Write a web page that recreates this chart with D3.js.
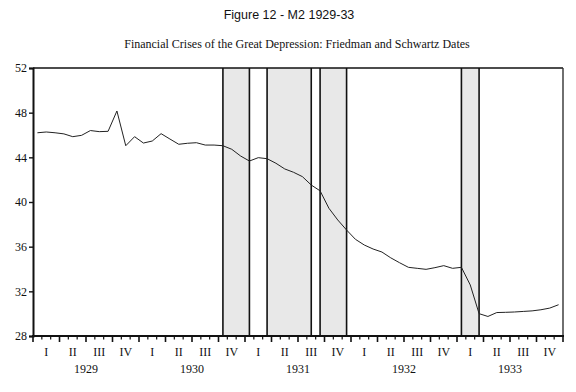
<!DOCTYPE html>
<html>
<head>
<meta charset="utf-8">
<script src="https://cdn.jsdelivr.net/npm/d3@7"></script>
<style>
  html, body { margin: 0; padding: 0; background: #fff; }
  svg { display: block; }
</style>
</head>
<body>
<div id="chart"></div>
<script>
// ── Data ─────────────────────────────────────────────────────────────────
var YEARS = ["1929", "1930", "1931", "1932", "1933"];
var QUARTERS = ["I", "II", "III", "IV"];

// M2, monthly, Jan 1929 – Dec 1933 (billions of dollars)
var M2_1929 = [46.2, 46.27, 46.2, 46.1, 45.85, 45.97, 46.4, 46.3, 46.33, 48.15, 45.04, 45.85];
var M2_1930 = [45.28, 45.46, 46.12, 45.64, 45.17, 45.26, 45.31, 45.1, 45.1, 45.04, 44.72, 44.12];
var M2_1931 = [43.67, 43.97, 43.88, 43.47, 42.96, 42.66, 42.27, 41.52, 41.0, 39.44, 38.39, 37.49];
var M2_1932 = [36.66, 36.15, 35.79, 35.52, 35.0, 34.56, 34.15, 34.06, 33.97, 34.12, 34.3, 34.06];
var M2_1933 = [34.15, 32.57, 30.0, 29.75, 30.1, 30.12, 30.15, 30.2, 30.25, 30.35, 30.5, 30.8];

// Friedman & Schwartz crisis windows, as month indexes from Jan 1929
var CRISIS_START = [21, 26, 32, 48];
var CRISIS_END   = [24, 31, 35, 50];

var Y_TICKS = [28, 32, 36, 40, 44, 48, 52];

var m2 = [].concat(M2_1929, M2_1930, M2_1931, M2_1932, M2_1933);

// ── Layout ───────────────────────────────────────────────────────────────
var W = 576, H = 392;
var L = 33, R = 563, T = 68, B = 336;

var svg = d3.select("#chart").append("svg")
  .attr("width", W)
  .attr("height", H);

var x = d3.scaleLinear().domain([0, YEARS.length * 12]).range([L, R]);
var y = d3.scaleLinear().domain([28, 52]).range([B, T]);

// ── Titles ───────────────────────────────────────────────────────────────
svg.append("text")
  .attr("x", 289).attr("y", 19)
  .attr("text-anchor", "middle")
  .attr("font-family", "'Liberation Sans', Arial, sans-serif")
  .attr("font-size", "12.5px")
  .attr("fill", "#111")
  .text("Figure 12 - M2 1929-33");

svg.append("text")
  .attr("x", 297).attr("y", 48)
  .attr("text-anchor", "middle")
  .attr("font-family", "'Liberation Serif', 'Times New Roman', serif")
  .attr("font-size", "12px")
  .attr("fill", "#111")
  .text("Financial Crises of the Great Depression: Friedman and Schwartz Dates");

// ── Crisis shading ───────────────────────────────────────────────────────
var bands = CRISIS_START.map(function (s, i) { return { s: s, e: CRISIS_END[i] }; });

svg.append("g").selectAll("rect")
  .data(bands)
  .join("rect")
  .attr("x", function (d) { return x(d.s + 0.5); })
  .attr("y", T)
  .attr("width", function (d) { return x(d.e + 0.5) - x(d.s + 0.5); })
  .attr("height", B - T)
  .attr("fill", "#e8e8e8");

var edges = [];
bands.forEach(function (d) { edges.push(d.s, d.e); });

svg.append("g").selectAll("line")
  .data(edges)
  .join("line")
  .attr("x1", function (d) { return x(d + 0.5); })
  .attr("x2", function (d) { return x(d + 0.5); })
  .attr("y1", T).attr("y2", B)
  .attr("stroke", "#111")
  .attr("stroke-width", 1.6);

// ── Series line ──────────────────────────────────────────────────────────
svg.append("path")
  .datum(m2)
  .attr("fill", "none")
  .attr("stroke", "#222")
  .attr("stroke-width", 1)
  .attr("d", d3.line()
    .x(function (d, i) { return x(i + 0.5); })
    .y(function (d) { return y(d); }));

// ── Frame ────────────────────────────────────────────────────────────────
svg.append("line")
  .attr("x1", L).attr("x2", R).attr("y1", T).attr("y2", T)
  .attr("stroke", "#111").attr("stroke-width", 1.6);
svg.append("line")
  .attr("x1", R).attr("x2", R).attr("y1", T).attr("y2", B)
  .attr("stroke", "#333").attr("stroke-width", 1.4);

// ── Y axis ───────────────────────────────────────────────────────────────
var yAxis = svg.append("g")
  .attr("transform", "translate(" + L + ",0)")
  .call(d3.axisLeft(y).tickValues(Y_TICKS).tickSize(4).tickPadding(2).tickFormat(d3.format("d")));

yAxis.select(".domain").attr("stroke", "#111").attr("stroke-width", 2);
yAxis.selectAll(".tick line").attr("stroke", "#111").attr("stroke-width", 1.4);
yAxis.selectAll(".tick text")
  .attr("font-family", "'Liberation Serif', 'Times New Roman', serif")
  .attr("font-size", "12px")
  .attr("fill", "#111");

// ── X axis (monthly ticks, longer at quarters) ───────────────────────────
var months = d3.range(0, YEARS.length * 12 + 1);

var xAxis = svg.append("g")
  .attr("transform", "translate(0," + B + ")");

xAxis.append("line")
  .attr("x1", L - 1).attr("x2", R + 1)
  .attr("stroke", "#111").attr("stroke-width", 2);

xAxis.selectAll("line.tick")
  .data(months)
  .join("line")
  .attr("class", "tick")
  .attr("x1", function (d) { return x(d); })
  .attr("x2", function (d) { return x(d); })
  .attr("y1", 0)
  .attr("y2", function (d) { return d % 3 === 0 ? 6 : 3.5; })
  .attr("stroke", "#111")
  .attr("stroke-width", function (d) { return d % 3 === 0 ? 1.6 : 1.2; });

var quarterCells = [];
YEARS.forEach(function (yr, yi) {
  QUARTERS.forEach(function (q, qi) {
    quarterCells.push({ label: q, m: yi * 12 + qi * 3 + 1.5 });
  });
});

xAxis.selectAll("text.q")
  .data(quarterCells)
  .join("text")
  .attr("class", "q")
  .attr("x", function (d) { return x(d.m); })
  .attr("y", 20)
  .attr("text-anchor", "middle")
  .attr("font-family", "'Liberation Serif', 'Times New Roman', serif")
  .attr("font-size", "12px")
  .attr("fill", "#111")
  .text(function (d) { return d.label; });

xAxis.selectAll("text.yr")
  .data(YEARS)
  .join("text")
  .attr("class", "yr")
  .attr("x", function (d, i) { return x(i * 12 + 6); })
  .attr("y", 37)
  .attr("text-anchor", "middle")
  .attr("font-family", "'Liberation Serif', 'Times New Roman', serif")
  .attr("font-size", "12px")
  .attr("fill", "#111")
  .text(function (d) { return d; });
</script>
</body>
</html>
